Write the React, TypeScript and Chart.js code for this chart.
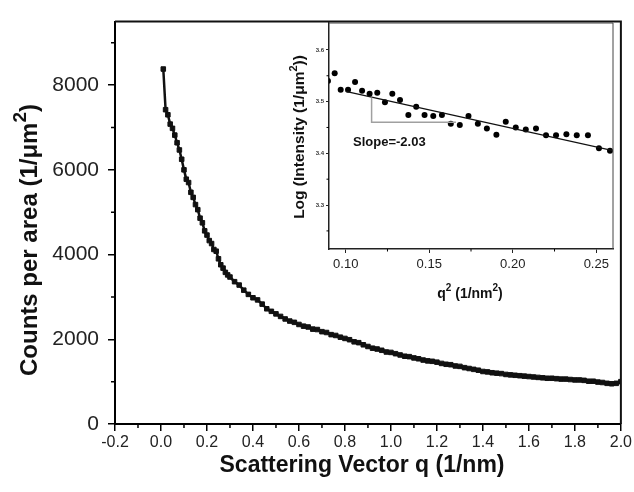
import React, { useEffect, useRef } from "react";
import { Chart, registerables } from "chart.js";
Chart.register(...registerables);

const FONT = '"Liberation Sans", Arial, Helvetica, sans-serif';

// ---- main curve ----
const mainQ = [
  0.01, 0.02, 0.03, 0.04, 0.05, 0.06, 0.07, 0.08, 0.09, 0.1,
  0.11, 0.12, 0.13, 0.14, 0.15, 0.16, 0.17, 0.18, 0.19, 0.2,
  0.21, 0.22, 0.23, 0.24, 0.25, 0.26, 0.27, 0.28, 0.29, 0.3,
  0.32, 0.34, 0.36, 0.38, 0.4, 0.42, 0.44, 0.46, 0.48, 0.5,
  0.52, 0.54, 0.56, 0.58, 0.6, 0.62, 0.64, 0.66, 0.68, 0.7,
  0.72, 0.74, 0.76, 0.78, 0.8, 0.82, 0.84, 0.86, 0.88, 0.9,
  0.92, 0.94, 0.96, 0.98, 1.0, 1.02, 1.04, 1.06, 1.08, 1.1,
  1.12, 1.14, 1.16, 1.18, 1.2, 1.22, 1.24, 1.26, 1.28, 1.3,
  1.32, 1.34, 1.36, 1.38, 1.4, 1.42, 1.44, 1.46, 1.48, 1.5,
  1.52, 1.54, 1.56, 1.58, 1.6, 1.62, 1.64, 1.66, 1.68, 1.7,
  1.72, 1.74, 1.76, 1.78, 1.8, 1.82, 1.84, 1.86, 1.88, 1.9,
  1.92, 1.94, 1.96, 1.98, 2.0,
];
const mainCounts = [
  8380, 7420, 7300, 7080, 6980, 6820, 6640, 6470, 6250, 6000,
  5780, 5700, 5470, 5350, 5180, 5060, 4860, 4750, 4560, 4460,
  4330, 4260, 4120, 4080, 3900, 3760, 3680, 3580, 3520, 3470,
  3360, 3280, 3160, 3060, 2980, 2930, 2830, 2720, 2660, 2600,
  2540, 2480, 2430, 2400, 2350, 2310, 2290, 2240, 2230, 2180,
  2160, 2110, 2090, 2050, 2020, 1990, 1940, 1920, 1870, 1830,
  1790, 1770, 1740, 1700, 1690, 1660, 1630, 1600, 1590, 1560,
  1540, 1510, 1490, 1480, 1460, 1430, 1410, 1400, 1370, 1360,
  1330, 1310, 1290, 1270, 1240, 1230, 1210, 1200, 1190, 1170,
  1160, 1150, 1140, 1130, 1120, 1110, 1100, 1090, 1080, 1080,
  1070, 1060, 1060, 1050, 1040, 1040, 1030, 1010, 1010, 990,
  980, 960, 950, 960, 1000,
];
const mainXTicks = [-0.2, 0, 0.2, 0.4, 0.6, 0.8, 1.0, 1.2, 1.4, 1.6, 1.8, 2.0];
const mainXMinor = [-0.1, 0.1, 0.3, 0.5, 0.7, 0.9, 1.1, 1.3, 1.5, 1.7, 1.9];
const mainYTicks = [0, 2000, 4000, 6000, 8000];
const mainYMinor = [1000, 3000, 5000, 7000, 9000];

// ---- inset ----
const insetQ2 = [
  0.0894, 0.0934, 0.097, 0.1014, 0.1056, 0.1098, 0.1143, 0.1189, 0.1235, 0.1279,
  0.1325, 0.1375, 0.1422, 0.1472, 0.1524, 0.1576, 0.1629, 0.1683, 0.1735, 0.1791,
  0.1845, 0.1902, 0.1958, 0.2018, 0.2078, 0.2139, 0.2199, 0.2259, 0.2321, 0.2383,
  0.245, 0.2516, 0.2582,
];
const insetLogI = [
  3.54, 3.555, 3.523, 3.523, 3.538, 3.521, 3.515, 3.517, 3.499, 3.515,
  3.503, 3.474, 3.49, 3.474, 3.472, 3.474, 3.457, 3.455, 3.472, 3.457,
  3.448, 3.436, 3.461, 3.45, 3.446, 3.448, 3.435, 3.435, 3.437, 3.435,
  3.435, 3.41, 3.405,
];
const fitQ2 = [0.1, 0.26];
const fitLogI = [3.52, 3.405];
const slopeQ2 = [0.1155, 0.1155, 0.166];
const slopeLogI = [3.508, 3.46, 3.46];
const insetXTicks = [0.1, 0.15, 0.2, 0.25];
const insetXMinor = [0.125, 0.175, 0.225];
const insetYTicks = [3.3, 3.4, 3.5, 3.6];
const insetYMinor = [3.25, 3.35, 3.45, 3.55];

type Seg = { t: string; sup?: boolean };

function drawRich(ctx: CanvasRenderingContext2D, segs: Seg[], x: number, y: number, size: number, rot: number, supScale = 0.72) {
  ctx.save();
  ctx.translate(x, y);
  ctx.rotate(rot);
  ctx.fillStyle = "#111";
  ctx.textBaseline = "middle";
  ctx.textAlign = "left";
  const fN = `bold ${size}px ${FONT}`;
  const fS = `bold ${Math.round(size * supScale)}px ${FONT}`;
  let w = 0;
  segs.forEach((s) => {
    ctx.font = s.sup ? fS : fN;
    w += ctx.measureText(s.t).width;
  });
  let cx = -w / 2;
  segs.forEach((s) => {
    ctx.font = s.sup ? fS : fN;
    ctx.fillText(s.t, cx, s.sup ? -size * 0.38 : 0);
    cx += ctx.measureText(s.t).width;
  });
  ctx.restore();
}

function decoPlugin(opts: {
  xMinor: number[];
  yMinor: number[];
  minorLen: number;
  tickW: number;
  frameW: number;
  frameColor: string;
  titles: (ctx: CanvasRenderingContext2D) => void;
}) {
  return {
    id: "deco",
    afterDraw(chart: any) {
      const ctx: CanvasRenderingContext2D = chart.ctx;
      const a = chart.chartArea;
      const xs = chart.scales.x;
      const ys = chart.scales.y;
      ctx.save();
      ctx.strokeStyle = "#000";
      ctx.lineWidth = opts.tickW;
      ctx.beginPath();
      opts.xMinor.forEach((v) => {
        const px = xs.getPixelForValue(v);
        ctx.moveTo(px, a.bottom);
        ctx.lineTo(px, a.bottom + opts.minorLen);
      });
      opts.yMinor.forEach((v) => {
        const py = ys.getPixelForValue(v);
        ctx.moveTo(a.left, py);
        ctx.lineTo(a.left - opts.minorLen, py);
      });
      ctx.stroke();
      ctx.strokeStyle = opts.frameColor;
      ctx.lineWidth = opts.frameW;
      ctx.beginPath();
      ctx.moveTo(a.left, a.top);
      ctx.lineTo(a.right, a.top);
      ctx.lineTo(a.right, a.bottom);
      ctx.stroke();
      ctx.restore();
      opts.titles(ctx);
    },
  };
}

export default function App() {
  const mainRef = useRef<HTMLCanvasElement>(null);
  const insetRef = useRef<HTMLCanvasElement>(null);

  useEffect(() => {
    const mainChart = new Chart(mainRef.current!, {
      type: "scatter",
      data: {
        datasets: [
          {
            data: mainQ.map((q, i) => ({ x: q, y: mainCounts[i] })),
            showLine: true,
            borderColor: "#111",
            backgroundColor: "#111",
            borderWidth: 2.5,
            pointStyle: "rect",
            pointRadius: 3.2,
            pointBorderWidth: 1,
          },
        ],
      },
      options: {
        animation: false,
        responsive: false,
        maintainAspectRatio: false,
        layout: { padding: { left: 0, top: 12, right: 13, bottom: 0 } },
        plugins: { legend: { display: false }, tooltip: { enabled: false } },
        scales: {
          x: {
            type: "linear",
            min: -0.2,
            max: 2.0,
            afterBuildTicks: (ax: any) => {
              ax.ticks = mainXTicks.map((v) => ({ value: v }));
            },
            afterFit: (ax: any) => {
              ax.height = 68;
            },
            ticks: {
              callback: (v: any) => Number(v).toFixed(1),
              font: { family: FONT, size: 16 },
              color: "#222",
              padding: 2,
              maxRotation: 0,
              autoSkip: false,
            },
            grid: { drawOnChartArea: false, drawTicks: true, tickLength: 7, color: "#000", lineWidth: 1.5 },
            border: { display: true, color: "#000", width: 2 },
          },
          y: {
            type: "linear",
            min: 0,
            max: 9500,
            afterBuildTicks: (ax: any) => {
              ax.ticks = mainYTicks.map((v) => ({ value: v }));
            },
            afterFit: (ax: any) => {
              ax.width = 115;
            },
            ticks: {
              callback: (v: any) => String(v),
              font: { family: FONT, size: 21 },
              color: "#222",
              padding: 9,
              autoSkip: false,
            },
            grid: { drawOnChartArea: false, drawTicks: true, tickLength: 7, color: "#000", lineWidth: 1.5 },
            border: { display: true, color: "#000", width: 2 },
          },
        },
      },
      plugins: [
        decoPlugin({
          xMinor: mainXMinor,
          yMinor: mainYMinor,
          minorLen: 4,
          tickW: 1.5,
          frameW: 2,
          frameColor: "#111",
          titles: (ctx) => {
            drawRich(ctx, [{ t: "Scattering Vector q (1/nm)" }], 362, 466, 23, 0);
            drawRich(ctx, [{ t: "Counts per area (1/μm" }, { t: "2", sup: true }, { t: ")" }], 30, 240, 24, -Math.PI / 2, 0.8);
          },
        }) as any,
      ],
    } as any);

    const insetChart = new Chart(insetRef.current!, {
      type: "scatter",
      data: {
        datasets: [
          {
            data: slopeQ2.map((q, i) => ({ x: q, y: slopeLogI[i] })),
            showLine: true,
            borderColor: "#a0a0a0",
            borderWidth: 1.5,
            pointRadius: 0,
          },
          {
            data: fitQ2.map((q, i) => ({ x: q, y: fitLogI[i] })),
            showLine: true,
            borderColor: "#111",
            borderWidth: 1.3,
            pointRadius: 0,
          },
          {
            data: insetQ2.map((q, i) => ({ x: q, y: insetLogI[i] })),
            showLine: false,
            backgroundColor: "#000",
            borderColor: "#000",
            pointRadius: 3,
            pointBorderWidth: 0,
          },
        ],
      },
      options: {
        animation: false,
        responsive: false,
        maintainAspectRatio: false,
        layout: { padding: { left: 0, top: 8, right: 7, bottom: 0 } },
        plugins: { legend: { display: false }, tooltip: { enabled: false } },
        scales: {
          x: {
            type: "linear",
            min: 0.09,
            max: 0.26,
            afterBuildTicks: (ax: any) => {
              ax.ticks = insetXTicks.map((v) => ({ value: v }));
            },
            afterFit: (ax: any) => {
              ax.height = 61;
            },
            ticks: {
              callback: (v: any) => Number(v).toFixed(2),
              font: { family: FONT, size: 13 },
              color: "#222",
              padding: 4,
              maxRotation: 0,
              autoSkip: false,
            },
            grid: { drawOnChartArea: false, drawTicks: true, tickLength: 4, color: "#222", lineWidth: 1 },
            border: { display: true, color: "#222", width: 1.5 },
          },
          y: {
            type: "linear",
            min: 3.215,
            max: 3.652,
            afterBuildTicks: (ax: any) => {
              ax.ticks = insetYTicks.map((v) => ({ value: v }));
            },
            afterFit: (ax: any) => {
              ax.width = 44;
            },
            ticks: {
              callback: (v: any) => Number(v).toFixed(1),
              font: { family: FONT, size: 6, weight: "bold" },
              color: "#333",
              padding: 2,
              autoSkip: false,
            },
            grid: { drawOnChartArea: false, drawTicks: true, tickLength: 3, color: "#222", lineWidth: 1 },
            border: { display: true, color: "#222", width: 1.5 },
          },
        },
      },
      plugins: [
        decoPlugin({
          xMinor: insetXMinor,
          yMinor: insetYMinor,
          minorLen: 2.5,
          tickW: 1,
          frameW: 1,
          frameColor: "#444",
          titles: (ctx) => {
            drawRich(ctx, [{ t: "q" }, { t: "2", sup: true }, { t: " (1/nm" }, { t: "2", sup: true }, { t: ")" }], 185, 279, 14, 0);
            drawRich(ctx, [{ t: "Log (Intensity (1/μm" }, { t: "2", sup: true }, { t: "))" }], 15, 122, 15.5, -Math.PI / 2);
            ctx.save();
            ctx.font = `bold 13px ${FONT}`;
            ctx.fillStyle = "#111";
            ctx.textBaseline = "middle";
            ctx.textAlign = "left";
            ctx.fillText("Slope=-2.03", 68, 127);
            ctx.restore();
          },
        }) as any,
      ],
    } as any);

    return () => {
      mainChart.destroy();
      insetChart.destroy();
    };
  }, []);

  return (
    <div style={{ position: "absolute", left: 0, top: 0, width: 634, height: 492, background: "#fff" }}>
      <canvas ref={mainRef} width={634} height={492} style={{ position: "absolute", left: 0, top: 0 }} />
      <canvas ref={insetRef} width={335} height={295} style={{ position: "absolute", left: 285, top: 15 }} />
    </div>
  );
}
